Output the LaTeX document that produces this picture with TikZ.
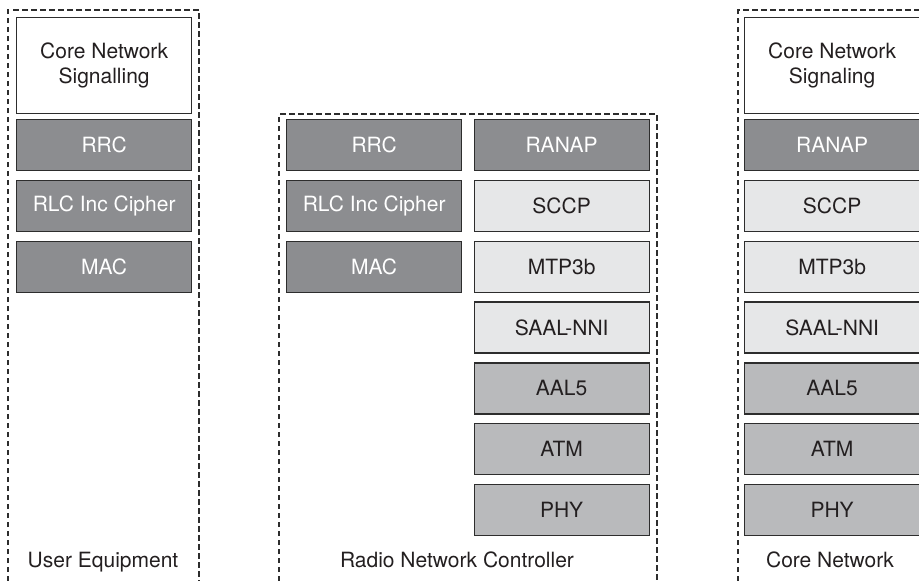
\documentclass[tikz,border=0pt]{standalone}
\usepackage{fontspec}
\setmainfont{TeX Gyre Heros}
\definecolor{darkfill}{RGB}{140,141,144}
\definecolor{midfill}{RGB}{185,186,188}
\definecolor{lightfill}{RGB}{230,231,232}
\definecolor{edge}{RGB}{45,45,45}
\definecolor{txt}{RGB}{35,31,32}
\tikzset{
  layerbox/.style={draw=edge, line width=1.3pt, rectangle, inner sep=0pt,
    minimum width=175pt, minimum height=51pt, anchor=north west,
    align=center, font=\fontsize{21}{24.5}\selectfont},
  darkbox/.style={layerbox, fill=darkfill, text=white},
  midbox/.style={layerbox, fill=midfill, text=txt},
  lightbox/.style={layerbox, fill=lightfill, text=txt},
  whitebox/.style={layerbox, fill=white, text=txt, minimum height=96pt},
  frameline/.style={draw=edge, line width=1.1pt, dash pattern=on 5.5pt off 3.5pt},
  caption/.style={anchor=base, text=txt, font=\fontsize{21}{24.5}\selectfont, inner sep=0pt}
}
\begin{document}
\begin{tikzpicture}[x=1pt,y=-1pt]
\useasboundingbox (0,0) rectangle (919,581);
% frames
\draw[frameline] (8,581) -- (8,10) -- (199,10) -- (199,581);
\draw[frameline] (279,581) -- (279,114) -- (657,114) -- (657,581);
\draw[frameline] (738,581) -- (738,10) -- (919,10);
% User Equipment
\node[whitebox] (uecn) at (16,17) {Core Network\\Signalling};
\node[darkbox] (uerrc) at (16,119) {RRC};
\node[darkbox] (uerlc) at (16,179.8) {RLC Inc Cipher};
\node[darkbox] (uemac) at (16,240.6) {MAC};
% RNC left column
\node[darkbox] (rncrrc) at (286,119) {RRC};
\node[darkbox] (rncrlc) at (286,179.8) {RLC Inc Cipher};
\node[darkbox] (rncmac) at (286,240.6) {MAC};
% RNC right column
\node[darkbox] (rncranap) at (473.5,119) {RANAP};
\node[lightbox] (rncsccp) at (473.5,179.8) {SCCP};
\node[lightbox] (rncmtp) at (473.5,240.6) {MTP3b};
\node[lightbox] (rncsaal) at (473.5,301.4) {SAAL-NNI};
\node[midbox] (rncaal) at (473.5,362.2) {AAL5};
\node[midbox] (rncatm) at (473.5,423) {ATM};
\node[midbox] (rncphy) at (473.5,483.8) {PHY};
% Core Network
\node[whitebox] (cncn) at (744,17) {Core Network\\Signaling};
\node[darkbox] (cnranap) at (744,119) {RANAP};
\node[lightbox] (cnsccp) at (744,179.8) {SCCP};
\node[lightbox] (cnmtp) at (744,240.6) {MTP3b};
\node[lightbox] (cnsaal) at (744,301.4) {SAAL-NNI};
\node[midbox] (cnaal) at (744,362.2) {AAL5};
\node[midbox] (cnatm) at (744,423) {ATM};
\node[midbox] (cnphy) at (744,483.8) {PHY};
% captions
\node[caption] (lue) at (103,567) {User Equipment};
\node[caption] (lrnc) at (457,567) {Radio Network Controller};
\node[caption] (lcn) at (830,567) {Core Network};
\end{tikzpicture}
\end{document}
